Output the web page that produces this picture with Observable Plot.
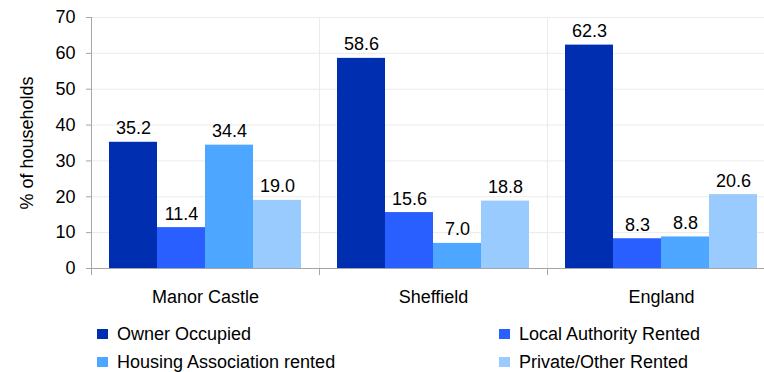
<!DOCTYPE html>
<html><head><meta charset="utf-8">
<script src="https://cdn.jsdelivr.net/npm/d3@7"></script>
<script src="https://cdn.jsdelivr.net/npm/@observablehq/plot@0.6"></script>
<style>
body{margin:0;overflow:hidden;background:#fff;font-family:"Liberation Sans",Arial,sans-serif;}
#chart{position:absolute;left:0;top:0;width:776px;}
#chart svg{max-width:none !important;}
#legend{position:absolute;left:0;top:0;width:764px;height:372px;}
.item{position:absolute;display:flex;align-items:center;font-size:18px;line-height:20px;color:#000;white-space:nowrap;transform:translateY(-50%);}
.sw{width:11px;height:10px;margin-right:9px;flex:none;}
</style></head><body>
<div id="chart"></div><div id="legend"></div>
<script>
const areas = ["Manor Castle", "Sheffield", "England"];
const tenures = ["Owner Occupied", "Local Authority Rented", "Housing Association rented", "Private/Other Rented"];
const ownerOccupied = [35.2, 58.6, 62.3];
const localAuthority = [11.4, 15.6, 8.3];
const housingAssoc = [34.4, 7.0, 8.8];
const privateOther = [19.0, 18.8, 20.6];
const colors = ["#002eb0", "#2a5fff", "#4da6ff", "#99cbff"];
const yTicks = [0, 10, 20, 30, 40, 50, 60, 70];
const yLabel = "% of households";

const series = [ownerOccupied, localAuthority, housingAssoc, privateOther];
const data = areas.flatMap((a, i) => tenures.map((t, j) => ({area: a, tenure: t, value: series[j][i]})));

const chart = Plot.plot({
  width: 776, height: 310,
  marginLeft: 90, marginRight: 0, marginTop: 17, marginBottom: 42,
  style: {fontFamily: "Liberation Sans, Arial, sans-serif", fontSize: "18px", color: "#000", background: "#fff", overflow: "visible", maxWidth: "none"},
  fx: {domain: areas, padding: 0, label: null},
  x: {domain: tenures, paddingInner: 0, paddingOuter: 0.356, axis: null},
  y: {domain: [0, 70], axis: null},
  color: {domain: tenures, range: colors},
  marks: [
    Plot.gridY(yTicks, {stroke: "#ebebeb", strokeOpacity: 1}),
    Plot.frame({anchor: "left", stroke: "#a6a6a6", insetBottom: -6}),
    Plot.frame({anchor: "left", stroke: "#ebebeb"}),
    Plot.frame({anchor: "left", stroke: "#a6a6a6", facetAnchor: "left"}),
    Plot.barY(data, {fx: "area", x: "tenure", y: "value", fill: "tenure"}),
    Plot.text(data, {fx: "area", x: "tenure", y: "value", text: d => d.value.toFixed(1), lineAnchor: "bottom", dy: -8, fill: "#000", fontSize: 18}),
    Plot.ruleY([0], {stroke: "#a6a6a6"}),
    Plot.axisY(yTicks, {anchor: "left", tickSize: 5, tickPadding: 11, stroke: "#a6a6a6", fill: "#000", fontSize: 18, label: yLabel, labelAnchor: "center", labelArrow: "none", labelOffset: 71}),
    Plot.axisFx({anchor: "bottom", tickSize: 0, tickPadding: 22, label: null, fill: "#000", fontSize: 18})
  ]
});
document.getElementById("chart").appendChild(chart);

const legend = document.getElementById("legend");
const pos = [[97, 334], [499, 334], [97, 361.5], [499, 361.5]];
tenures.forEach((t, i) => {
  const it = document.createElement("div");
  it.className = "item";
  it.style.left = pos[i][0] + "px";
  it.style.top = pos[i][1] + "px";
  const sw = document.createElement("span");
  sw.className = "sw";
  sw.style.background = colors[i];
  const tx = document.createElement("span");
  tx.textContent = t;
  it.appendChild(sw); it.appendChild(tx);
  legend.appendChild(it);
});
</script>
</body></html>
